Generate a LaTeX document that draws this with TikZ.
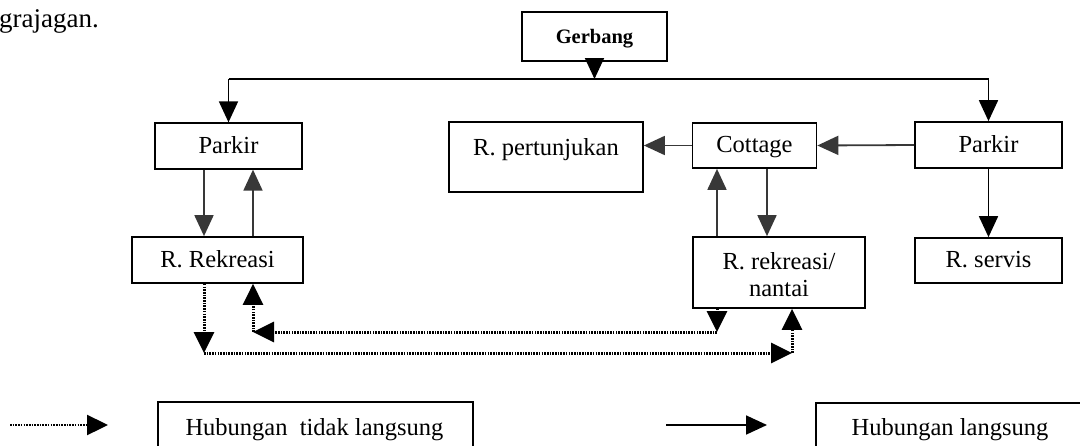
\documentclass[tikz,border=0pt]{standalone}
\usepackage{fontspec}
\setmainfont{Liberation Serif}
\usetikzlibrary{arrows.meta}
\begin{document}
\begin{tikzpicture}[x=1pt,y=-1pt,
  txt/.style={font=\fontsize{24.5}{30}\selectfont,inner sep=0pt,text height=17pt,text depth=3pt},
  box/.style={draw=black,line width=1.7pt,fill=white,inner sep=0pt,txt},
  arr/.style={draw=black,line width=1.8pt,-{Triangle[length=21pt,width=19pt]}},
  garr/.style={arr,draw=black!78},
  ln/.style={draw=black,line width=1.8pt},
  dot/.style={draw=black,line width=3pt,dash pattern=on 1.6pt off 1.1pt,-{Triangle[length=21pt,width=20pt]}},
]
\clip (0,0) rectangle (1080,445);
\useasboundingbox (0,0) rectangle (1080,445);

% fragment of body text
\node[font=\fontsize{27}{32}\selectfont,inner sep=0pt,anchor=base west] (frag) at (-1,27.5) {grajagan.};

% boxes
\node[box,minimum width=145pt,minimum height=49pt,font=\bfseries\fontsize{20.5}{24}\selectfont,text height=15pt,text depth=1pt] (gerbang) at (594.5,36.5) {Gerbang};
\node[box,minimum width=147pt,minimum height=46pt,line width=1.3pt] (parkirL) at (228.5,146) {Parkir};
\node[box,minimum width=194pt,minimum height=70pt] (pert) at (546,157) {};
\node[txt] (pertT) at (546,148) {R. pertunjukan};
\node[box,minimum width=124pt,minimum height=45pt] (cottage) at (754.5,145.5) {Cottage};
\node[box,minimum width=147pt,minimum height=46pt] (parkirR) at (988.5,145) {Parkir};
\node[box,minimum width=171pt,minimum height=46pt] (rekreasi) at (217.5,260) {R. Rekreasi};
\node[box,minimum width=172pt,minimum height=71pt] (nantai) at (779,272.5) {};
\node[font=\fontsize{24.5}{27}\selectfont,inner sep=0pt,align=center] (nantaiT) at (779,275) {R. rekreasi/\\nantai};
\node[box,minimum width=147pt,minimum height=45pt] (servis) at (988.5,260.5) {R. servis};

% helper coordinates
\coordinate (hy) at (0,79);
\coordinate (xa) at (204,0);
\coordinate (xb) at (253,0);
\coordinate (xc) at (717,0);
\coordinate (xd) at (767,0);
\coordinate (xe) at (792,0);
\coordinate (yu) at (0,332);
\coordinate (yl) at (0,353);
\coordinate (jG) at (gerbang.south |- hy);
\coordinate (jL) at (parkirL.north |- hy);
\coordinate (jR) at (parkirR.north |- hy);

% direct connections
\draw[ln] (jL) -- (jR);
\draw[arr] (gerbang.south) -- (jG);
\draw[arr] (jL) -- (parkirL.north);
\draw[arr] (jR) -- (parkirR.north);
\draw[garr] (parkirL.south -| xa) -- (rekreasi.north -| xa);
\draw[garr] (rekreasi.north -| xb) -- (parkirL.south -| xb);
\draw[garr] (cottage.south -| xd) -- (nantai.north -| xd);
\draw[garr] (nantai.north -| xc) -- (cottage.south -| xc);
\draw[garr] (cottage.west) -- (pert.east |- cottage.west);
\draw[garr] (parkirR.west) -- (cottage.east);
\draw[arr] (parkirR.south) -- (servis.north);

% indirect connections
\coordinate (u1) at (xc |- yu);
\coordinate (u2) at (xb |- yu);
\coordinate (l1) at (xa |- yl);
\coordinate (l2) at (xe |- yl);
\draw[dot] (nantai.south -| xc) -- (u1);
\draw[dot] (u1) -- (u2);
\draw[dot] (u2) -- (rekreasi.south -| xb);
\draw[dot] (rekreasi.south -| xa) -- (l1);
\draw[dot] (l1) -- (l2);
\draw[dot] (l2) -- (nantai.south -| xe);

% legend
\coordinate (ld1) at (10,425);
\coordinate (ld2) at (108,425);
\draw[dot,line width=2.4pt] (ld1) -- (ld2);
\node[box,anchor=north west,minimum width=315pt,minimum height=80pt] (legD) at (157,401) {};
\node[txt,anchor=base] (legDt) at (314.5,435) {Hubungan\ \ tidak langsung};
\coordinate (ls1) at (666,425);
\coordinate (ls2) at (767,425);
\draw[arr] (ls1) -- (ls2);
\node[box,anchor=north west,minimum width=270pt,minimum height=80pt] (legS) at (815,402) {};
\node[txt,anchor=base] (legSt) at (950,435) {Hubungan langsung};
\end{tikzpicture}
\end{document}
